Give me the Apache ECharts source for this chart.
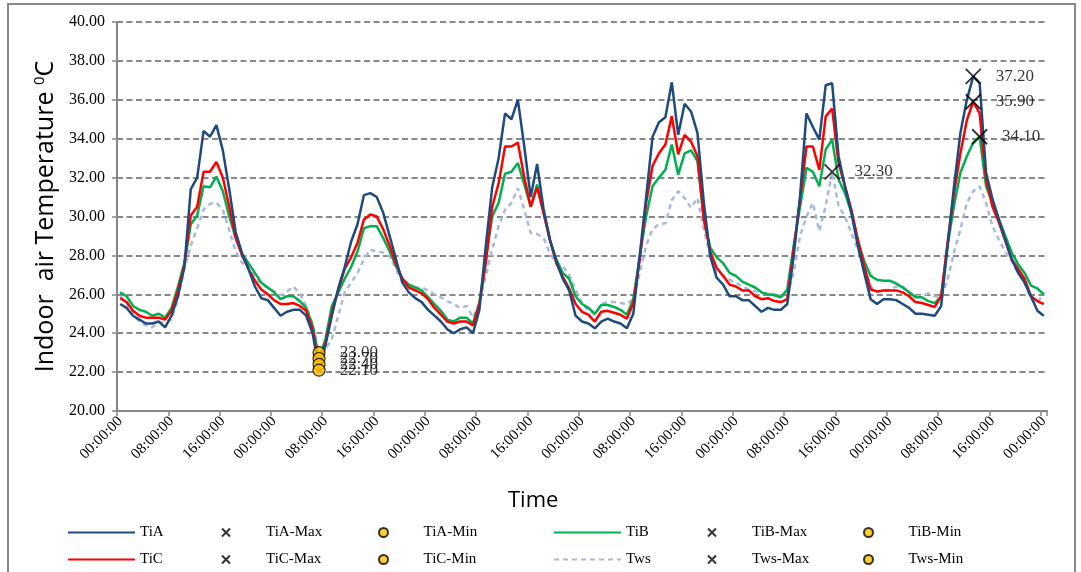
<!DOCTYPE html>
<html>
<head>
<meta charset="utf-8">
<script src="https://cdn.jsdelivr.net/npm/echarts@6/dist/echarts.min.js"></script>
<style>
html,body{margin:0;padding:0;background:#fff;}
#chart{width:1081px;height:572px;}
</style>
</head>
<body>
<div id="chart"></div>
<script>
// hourly categories, 6 days (00:00 day 1 .. 00:00 day 7)
const categories = [];
for (let h = 0; h <= 144; h++) categories.push(String(h % 24).padStart(2, '0') + ':00:00');

const TiA = [25.5,25.3,24.9,24.7,24.5,24.5,24.6,24.3,24.9,25.9,27.4,
 31.4,32.0,34.4,34.1,34.7,33.4,31.4,29.2,28.1,27.3,
 26.4,25.8,25.7,25.3,24.9,25.1,25.2,25.2,24.9,24.0,
 22.1,23.4,24.9,26.3,27.4,28.7,29.6,31.1,31.2,31.0,
 30.2,29.0,27.8,26.6,26.1,25.8,25.6,25.2,24.9,24.6,
 24.2,24.0,24.2,24.3,24.0,25.2,28.5,31.5,33.0,35.3,
 35.0,36.0,33.6,31.0,32.7,30.4,28.8,27.7,26.8,26.2,
 24.9,24.6,24.5,24.25,24.6,24.75,24.6,24.5,24.25,25.0,
 28.0,31.0,34.1,34.85,35.1,36.9,34.2,35.8,35.4,34.3,
 30.7,27.95,26.85,26.5,25.9,25.9,25.7,25.7,25.4,25.1,
 25.3,25.2,25.2,25.5,27.95,31.05,35.3,34.6,33.95,36.75,
 36.85,33.1,31.55,30.2,28.5,27.1,25.75,25.5,25.75,25.75,
 25.7,25.5,25.3,25.0,25.0,24.95,24.9,25.4,28.5,31.55,
 34.3,36.0,37.2,36.85,32.25,30.9,29.85,28.8,27.8,27.1,
 26.6,25.9,25.15,24.9];

const TiC = [25.8,25.6,25.15,24.9,24.8,24.8,24.8,24.7,25.15,26.2,27.5,
 30.05,30.5,32.3,32.3,32.8,32.0,30.5,28.9,28.0,27.3,
 26.7,26.25,26.0,25.7,25.5,25.5,25.55,25.4,25.15,24.2,
 22.4,23.5,25.05,26.25,27.3,27.9,28.65,29.85,30.1,30.0,
 29.35,28.5,27.55,26.8,26.35,26.2,26.05,25.75,25.3,24.95,
 24.6,24.5,24.6,24.6,24.4,25.5,27.6,30.5,31.7,33.6,
 33.6,33.8,32.0,30.5,31.5,30.2,28.8,27.6,26.9,26.3,
 25.5,25.1,24.95,24.6,25.1,25.15,25.05,24.95,24.75,25.55,
 27.8,30.7,32.6,33.25,33.7,35.15,33.2,34.2,33.85,33.1,
 29.85,28.2,27.35,26.95,26.5,26.4,26.2,26.2,25.9,25.75,
 25.8,25.65,25.6,25.75,28.3,30.9,33.6,33.6,32.4,35.15,
 35.55,32.75,31.55,30.35,28.8,27.45,26.25,26.15,26.2,26.2,
 26.2,26.1,25.9,25.6,25.55,25.45,25.35,25.9,28.65,31.2,
 33.25,34.95,35.9,35.3,31.9,30.5,29.7,28.75,27.8,27.3,
 26.8,25.9,25.65,25.5];

const TiB = [26.1,25.9,25.4,25.2,25.1,24.9,25.0,24.8,25.3,26.4,27.6,
 29.6,30.05,31.55,31.5,32.05,31.3,30.0,28.9,28.1,27.6,
 27.1,26.6,26.35,26.1,25.75,25.9,25.9,25.65,25.3,24.4,
 22.7,23.7,25.4,26.1,26.8,27.4,28.2,29.4,29.5,29.5,
 28.9,28.2,27.45,26.8,26.5,26.35,26.2,25.85,25.5,25.15,
 24.7,24.6,24.8,24.8,24.5,25.55,27.8,30.0,30.7,32.2,
 32.3,32.75,31.65,30.5,31.65,30.2,28.8,27.8,27.1,26.8,
 25.9,25.5,25.3,25.0,25.45,25.45,25.35,25.2,24.95,25.75,
 27.95,30.0,31.55,32.0,32.4,33.7,32.15,33.25,33.4,32.85,
 29.85,28.4,27.9,27.6,27.1,26.95,26.65,26.5,26.35,26.1,
 26.0,25.95,25.85,26.25,28.5,30.5,32.5,32.3,31.55,33.45,
 33.95,31.9,31.2,30.2,28.8,27.7,26.95,26.75,26.7,26.7,
 26.55,26.35,26.1,25.85,25.85,25.65,25.55,25.9,28.5,30.55,
 32.25,33.1,33.8,34.1,31.55,30.7,29.85,29.0,28.15,27.55,
 27.1,26.45,26.3,26.0];

const Tws = [25.9,25.55,24.95,24.6,24.4,24.3,24.55,24.55,24.7,25.75,27.3,
 28.5,29.4,30.35,30.65,30.7,30.35,29.3,28.2,27.6,27.55,
 26.9,26.5,26.35,26.15,25.95,26.15,26.4,26.05,25.4,24.5,
 23.0,23.2,23.7,24.9,26.1,26.6,27.1,27.8,28.3,28.2,
 28.15,27.95,27.3,26.6,26.4,26.35,26.35,26.2,26.0,25.85,
 25.65,25.5,25.3,25.4,24.8,25.55,26.95,28.3,29.5,30.35,
 30.7,31.45,30.35,29.15,29.1,28.9,28.1,27.6,27.45,27.0,
 26.25,25.55,25.15,24.95,25.5,25.6,25.6,25.55,25.5,25.75,
 27.1,28.5,29.35,29.6,29.65,30.85,31.3,30.95,30.45,30.95,
 29.35,27.95,27.1,26.95,26.75,26.6,26.4,26.25,26.15,26.05,
 26.05,26.0,25.95,25.9,27.1,29.0,30.0,30.7,29.25,30.55,
 32.3,30.55,30.0,29.15,28.3,27.45,26.4,26.1,26.15,26.25,
 26.4,26.4,26.1,25.9,25.9,26.05,25.9,25.85,26.75,28.15,
 29.35,30.7,31.3,31.55,30.7,29.5,28.8,28.2,27.7,27.1,
 26.6,25.75,25.55,26.1];

// extreme points: [category index, value]
const TiA_Max = [[133, 37.2]];
const TiB_Max = [[134, 34.1]];
const TiC_Max = [[133, 35.9]];
const Tws_Max = [[111, 32.3]];
const TiA_Min = [[31, 22.1]];
const TiB_Min = [[31, 22.7]];
const TiC_Min = [[31, 22.4]];
const Tws_Min = [[31, 23.0]];

const yTicks = {min: 20, max: 40, interval: 2};

const serif = 'Liberation Serif';
const sans = 'Open Sans';
const crossPath = 'path://M0,0L10,10M10,0L0,10';

function lineSeries(name, data, color, dashed) {
  return {
    name, type: 'line', data, symbol: 'none', showSymbol: false,
    lineStyle: {color, width: 2.5, type: dashed ? [5, 4] : 'solid'},
    itemStyle: {color}, z: 2
  };
}
function maxSeries(name, data) {
  return {
    name, type: 'scatter', data, symbol: crossPath, symbolSize: 15, z: 5,
    itemStyle: {color: '#000', borderColor: '#000', borderWidth: 1.8},
    label: {show: true, position: 'right', distance: 14, color: '#000',
      fontFamily: serif, fontSize: 17, formatter: p => p.value[1].toFixed(2)}
  };
}
function minSeries(name, data) {
  return {
    name, type: 'scatter', data, symbol: 'circle', symbolSize: 12, z: 5,
    itemStyle: {color: '#FFC000', borderColor: '#000', borderWidth: 1.2},
    label: {show: true, position: 'right', distance: 14, color: '#000',
      fontFamily: serif, fontSize: 17, formatter: p => p.value[1].toFixed(2)}
  };
}

function lg(name, left, top, kind) {
  const base = {data: [name], left, top, padding: 0, orient: 'horizontal',
    textStyle: {fontFamily: serif, fontSize: 15, color: '#000'}};
  if (kind === 'line') {
    base.itemWidth = 67; base.itemHeight = 3;
    base.itemStyle = {opacity: 0, borderWidth: 0};
  } else if (kind === 'max') { base.itemWidth = 70; base.itemHeight = 8; }
  else { base.itemWidth = 70; base.itemHeight = 9; }
  return base;
}
const r1 = 525, r2 = 552;

const chart = echarts.init(document.getElementById('chart'));
chart.setOption({
  animation: false,
  backgroundColor: '#fff',
  grid: {left: 117, right: 34, top: 22, bottom: 161, containLabel: false},
  xAxis: {
    type: 'category', data: categories, boundaryGap: true,
    axisLine: {lineStyle: {color: '#868686', width: 2}},
    axisTick: {show: true, interval: 7, length: 5, lineStyle: {color: '#868686', width: 1.5}},
    axisLabel: {interval: 7, rotate: 45, margin: 8, color: '#000', fontFamily: serif, fontSize: 15},
    splitLine: {show: false}
  },
  yAxis: {
    type: 'value', min: yTicks.min, max: yTicks.max, interval: yTicks.interval,
    name: '{a|Indoor  air Temperature }{s|0}{a|C}',
    nameLocation: 'middle', nameGap: 55,
    nameTextStyle: {rich: {
      a: {fontFamily: sans, fontSize: 25, color: '#000'},
      s: {fontFamily: sans, fontSize: 15, color: '#000', padding: [0, 0, 12, 0]}
    }},
    axisLine: {show: true, lineStyle: {color: '#868686', width: 2}},
    axisTick: {show: true, length: 5, lineStyle: {color: '#868686', width: 1.5}},
    axisLabel: {margin: 12, color: '#000', fontFamily: serif, fontSize: 16,
      formatter: v => v.toFixed(2)},
    splitLine: {show: true, lineStyle: {color: '#888', width: 2, type: [6, 3.5]}}
  },
  legend: [
    lg('TiA', 67, r1, 'line'), lg('TiA-Max', 221, r1, 'max'), lg('TiA-Min', 378, r1, 'min'),
    lg('TiB', 553, r1, 'line'), lg('TiB-Max', 707, r1, 'max'), lg('TiB-Min', 863, r1, 'min'),
    lg('TiC', 67, r2, 'line'), lg('TiC-Max', 221, r2, 'max'), lg('TiC-Min', 378, r2, 'min'),
    lg('Tws', 553, r2, 'line'), lg('Tws-Max', 707, r2, 'max'), lg('Tws-Min', 863, r2, 'min')
  ],
  graphic: [
    {type: 'rect', shape: {x: 8, y: 4, width: 1067, height: 620}, silent: true,
     style: {fill: 'none', stroke: '#888', lineWidth: 2}},
    {type: 'text', left: 508, top: 490, silent: true,
     style: {text: 'Time', fontFamily: sans, fontSize: 22, fill: '#000'}}
  ],
  series: [
    lineSeries('Tws', Tws, '#A7BADB', true),
    lineSeries('TiB', TiB, '#00B050', false),
    lineSeries('TiC', TiC, '#FF0000', false),
    lineSeries('TiA', TiA, '#1F4A7E', false),
    maxSeries('TiA-Max', TiA_Max), maxSeries('TiB-Max', TiB_Max),
    maxSeries('TiC-Max', TiC_Max), maxSeries('Tws-Max', Tws_Max),
    minSeries('Tws-Min', Tws_Min), minSeries('TiB-Min', TiB_Min),
    minSeries('TiC-Min', TiC_Min), minSeries('TiA-Min', TiA_Min)
  ]
});
</script>
</body>
</html>
